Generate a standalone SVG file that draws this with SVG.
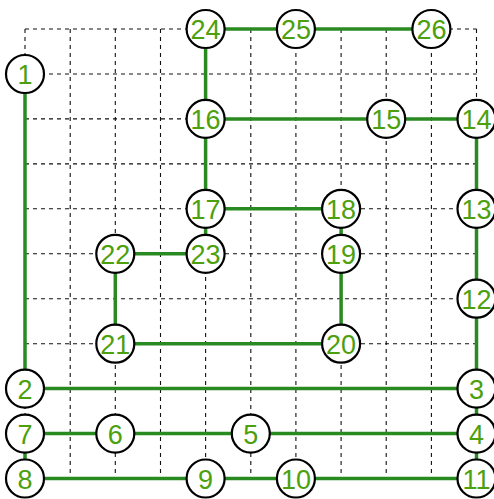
<svg xmlns="http://www.w3.org/2000/svg" width="494" height="499" viewBox="0 0 494 499">
<style>
.grid{stroke:#111;stroke-width:1.1;stroke-dasharray:4,4;fill:none}
.edge{stroke:#2a8a22;stroke-width:3.5;fill:none}
.node circle{fill:#fff;stroke:#000;stroke-width:2.2}
.node text{font-family:"Liberation Sans",Arial,sans-serif;font-size:27px;fill:#4ca00e;text-anchor:middle}
</style>
<rect width="494" height="499" fill="#fff"/>
<g id="grid" class="grid">
<path d="M25,29H476.5M25,74H476.5M25,118.9H476.5M25,163.9H476.5M25,208.8H476.5M25,253.8H476.5M25,298.7H476.5M25,343.7H476.5M25,388.6H476.5M25,433.6H476.5M25,478.5H476.5"/>
<path d="M25,29V478.5M70.2,29V478.5M115.3,29V478.5M160.5,29V478.5M205.6,29V478.5M250.8,29V478.5M295.9,29V478.5M341.1,29V478.5M386.2,29V478.5M431.4,29V478.5M476.5,29V478.5"/>
</g>
<g id="connectors" class="edge">
<path d="M25,74V388.6H476.5"/>
<path d="M476.5,388.6V118.9H205.6"/>
<path d="M205.6,29H431.4"/>
<path d="M205.6,29V253.8"/>
<path d="M205.6,208.8H341.1V343.7H115.3V253.8H205.6"/>
<path d="M476.5,388.6V478.5H25V433.6H476.5"/>
</g>
<g id="n1" class="node"><circle cx="25" cy="74" r="19"/><text x="25" y="84">1</text></g>
<g id="n2" class="node"><circle cx="25" cy="388.6" r="19"/><text x="25" y="398.6">2</text></g>
<g id="n3" class="node"><circle cx="476.5" cy="388.6" r="19"/><text x="476.5" y="398.6">3</text></g>
<g id="n4" class="node"><circle cx="476.5" cy="433.6" r="19"/><text x="476.5" y="443.6">4</text></g>
<g id="n5" class="node"><circle cx="250.8" cy="433.6" r="19"/><text x="250.8" y="443.6">5</text></g>
<g id="n6" class="node"><circle cx="115.3" cy="433.6" r="19"/><text x="115.3" y="443.6">6</text></g>
<g id="n7" class="node"><circle cx="25" cy="433.6" r="19"/><text x="25" y="443.6">7</text></g>
<g id="n8" class="node"><circle cx="25" cy="478.5" r="19"/><text x="25" y="488.5">8</text></g>
<g id="n9" class="node"><circle cx="205.6" cy="478.5" r="19"/><text x="205.6" y="488.5">9</text></g>
<g id="n10" class="node"><circle cx="295.9" cy="478.5" r="19"/><text x="295.9" y="488.5">10</text></g>
<g id="n11" class="node"><circle cx="476.5" cy="478.5" r="19"/><text x="476.5" y="488.5">11</text></g>
<g id="n12" class="node"><circle cx="476.5" cy="298.7" r="19"/><text x="476.5" y="308.7">12</text></g>
<g id="n13" class="node"><circle cx="476.5" cy="208.8" r="19"/><text x="476.5" y="218.8">13</text></g>
<g id="n14" class="node"><circle cx="476.5" cy="118.9" r="19"/><text x="476.5" y="128.9">14</text></g>
<g id="n15" class="node"><circle cx="386.2" cy="118.9" r="19"/><text x="386.2" y="128.9">15</text></g>
<g id="n16" class="node"><circle cx="205.6" cy="118.9" r="19"/><text x="205.6" y="128.9">16</text></g>
<g id="n17" class="node"><circle cx="205.6" cy="208.8" r="19"/><text x="205.6" y="218.8">17</text></g>
<g id="n18" class="node"><circle cx="341.1" cy="208.8" r="19"/><text x="341.1" y="218.8">18</text></g>
<g id="n19" class="node"><circle cx="341.1" cy="253.8" r="19"/><text x="341.1" y="263.8">19</text></g>
<g id="n20" class="node"><circle cx="341.1" cy="343.7" r="19"/><text x="341.1" y="353.7">20</text></g>
<g id="n21" class="node"><circle cx="115.3" cy="343.7" r="19"/><text x="115.3" y="353.7">21</text></g>
<g id="n22" class="node"><circle cx="115.3" cy="253.8" r="19"/><text x="115.3" y="263.8">22</text></g>
<g id="n23" class="node"><circle cx="205.6" cy="253.8" r="19"/><text x="205.6" y="263.8">23</text></g>
<g id="n24" class="node"><circle cx="205.6" cy="29" r="19"/><text x="205.6" y="39">24</text></g>
<g id="n25" class="node"><circle cx="295.9" cy="29" r="19"/><text x="295.9" y="39">25</text></g>
<g id="n26" class="node"><circle cx="431.4" cy="29" r="19"/><text x="431.4" y="39">26</text></g>
</svg>
